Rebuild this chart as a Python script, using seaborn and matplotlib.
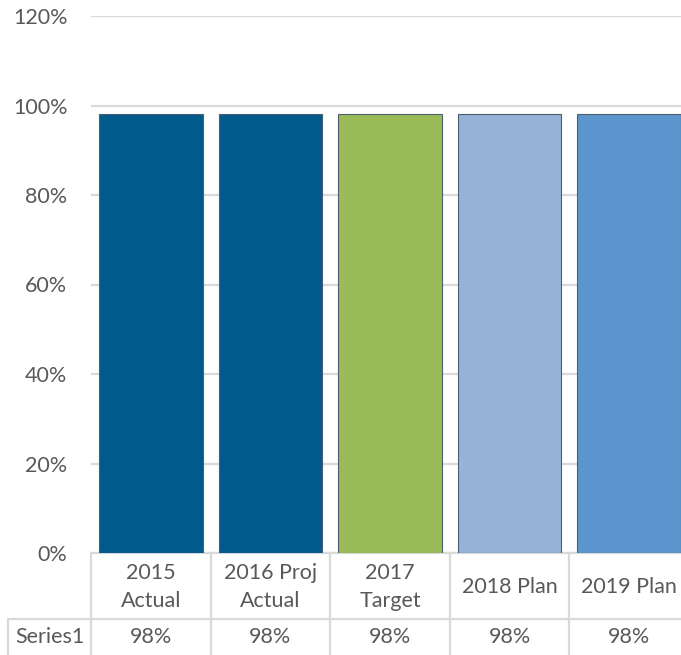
import matplotlib
matplotlib.use("Agg")
import matplotlib.pyplot as plt
import seaborn as sns
from matplotlib.ticker import PercentFormatter

# data
categories = ["2015\nActual", "2016 Proj\nActual", "2017\nTarget", "2018 Plan", "2019 Plan"]
values = [0.98, 0.98, 0.98, 0.98, 0.98]
series_name = "Series1"
colors = ["#005a8c", "#005a8c", "#9bbb59", "#95b3d7", "#5b95cd"]

sns.set_style("white")
plt.rcParams["font.family"] = ["Lato", "DejaVu Sans"]
txt = "#595959"
grid = "#d9d9d9"

fig = plt.figure(figsize=(6.81, 6.55), dpi=100)
ax = fig.add_axes([91 / 681, 102 / 655, 598 / 681, 537 / 655])

sns.barplot(x=categories, y=values, hue=categories, palette=colors, legend=False,
            width=0.867, edgecolor="#4d5e6e", linewidth=0.8, saturation=1, ax=ax, zorder=3)

ax.set_xlim(-0.5, 4.5)
ax.set_ylim(0, 1.2)
ax.set_yticks([0, 0.2, 0.4, 0.6, 0.8, 1.0, 1.2])
ax.yaxis.set_major_formatter(PercentFormatter(1.0, decimals=0))
ax.tick_params(axis="y", length=0, pad=17, labelsize=15.5, labelcolor=txt)
ax.set_xticks([])
ax.set_xlabel("")
ax.set_ylabel("")
ax.grid(axis="y", color=grid, linewidth=1.6, zorder=0)
for s in ax.spines.values():
    s.set_visible(False)

# data table under the plot
px = 537.0
row1 = -66 / px
bottom = -110 / px
left_cell = -0.5 - 83 / 119.6
lk = dict(color=grid, linewidth=1.6, clip_on=False, transform=ax.get_xaxis_transform())
ax.plot([-0.5, 4.6], [0, 0], **lk)
ax.plot([left_cell, 4.6], [row1, row1], **lk)
ax.plot([left_cell, left_cell], [row1, bottom], **lk)
for i in range(len(categories)):
    ax.plot([i - 0.5, i - 0.5], [0, bottom], **lk)
tk = dict(transform=ax.get_xaxis_transform(), ha="center", va="center",
          fontsize=15.5, color=txt, clip_on=False, linespacing=1.45)
for i, (c, v) in enumerate(zip(categories, values)):
    ax.text(i, -34 / px, c, **tk)
    ax.text(i, -84 / px, f"{v:.0%}", **tk)
ax.text((left_cell - 0.5) / 2, -84 / px, series_name, **tk)

fig.savefig("out.png", dpi=100)
